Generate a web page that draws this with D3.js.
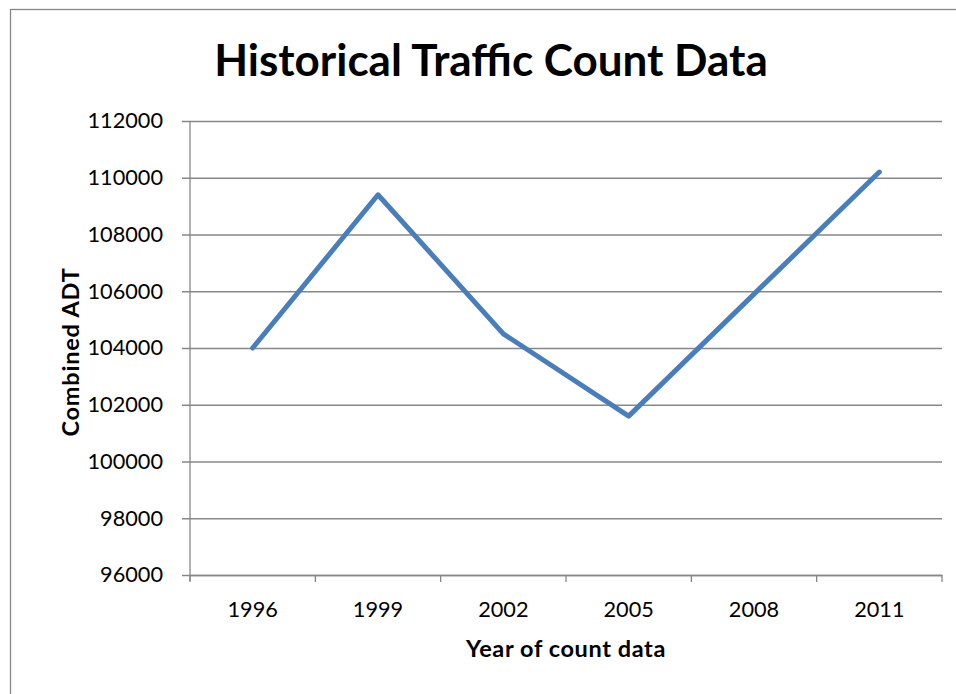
<!DOCTYPE html>
<html>
<head>
<meta charset="utf-8">
<script src="https://cdn.jsdelivr.net/npm/d3@7"></script>
<style>
  body { margin: 0; background: #fff; }
  svg { display: block; font-family: Lato, "Open Sans", sans-serif; }
</style>
</head>
<body>
<div id="chart"></div>
<script>
// data
const years = ["1996", "1999", "2002", "2005", "2008", "2011"];
const adt = [104000, 109400, 104500, 101600, 105900, 110200];
const yTicks = [96000, 98000, 100000, 102000, 104000, 106000, 108000, 110000, 112000];

const width = 956, height = 694;
const plotLeft = 190, plotRight = 942, plotTop = 121, plotBottom = 575;
const gray = "#878787";

const svg = d3.select("#chart").append("svg")
    .attr("width", width)
    .attr("height", height);

// outer chart border (runs off the right / bottom edge)
svg.append("rect")
    .attr("x", 10.5).attr("y", 9.5)
    .attr("width", 1000).attr("height", 800)
    .attr("fill", "none")
    .attr("stroke", gray)
    .attr("stroke-width", 1.3);

const x = d3.scaleBand().domain(years).range([plotLeft, plotRight]);
const y = d3.scaleLinear().domain([96000, 112000]).range([plotBottom, plotTop]);

// gridlines + y labels
const yAxis = svg.append("g")
    .attr("transform", "translate(182,0)")
    .call(d3.axisLeft(y).tickValues(yTicks).tickSize(-(plotRight - 182)).tickPadding(19).tickFormat(d3.format("d")));
yAxis.select(".domain").remove();
yAxis.selectAll("line").attr("stroke", gray).attr("stroke-width", 1.3);
yAxis.selectAll("text").attr("font-size", 21.7).attr("fill", "#000").attr("font-family", "Lato");

// y axis line
svg.append("line")
    .attr("x1", plotLeft).attr("x2", plotLeft)
    .attr("y1", y(112000)).attr("y2", plotBottom + 6)
    .attr("stroke", gray).attr("stroke-width", 1.3);

// x axis labels
const xAxis = svg.append("g")
    .attr("transform", "translate(0," + plotBottom + ")")
    .call(d3.axisBottom(x).tickSize(0).tickPadding(26.6));
xAxis.select(".domain").attr("stroke", gray).attr("stroke-width", 1.3);
xAxis.selectAll("text").attr("font-size", 21.7).attr("fill", "#000").attr("font-family", "Lato");

// x tick marks at band edges
const edges = years.map(d => x(d)).concat([x.range()[1]]);
svg.append("g").selectAll("line")
    .data(edges).enter()
    .append("line")
    .attr("x1", d => d).attr("x2", d => d)
    .attr("y1", plotBottom).attr("y2", plotBottom + 7)
    .attr("stroke", gray).attr("stroke-width", 1.3);

// the line
const line = d3.line()
    .x((d, i) => x(years[i]) + x.bandwidth() / 2)
    .y(d => y(d));

svg.append("path")
    .datum(adt)
    .attr("fill", "none")
    .attr("stroke", "#4a7ebb")
    .attr("stroke-width", 5)
    .attr("stroke-linejoin", "round")
    .attr("stroke-linecap", "round")
    .attr("d", line);

// titles
svg.append("text")
    .attr("x", 491).attr("y", 76)
    .attr("text-anchor", "middle")
    .attr("font-size", 44)
    .attr("font-weight", "bold")
    .text("Historical Traffic Count Data");

svg.append("text")
    .attr("x", 566).attr("y", 657)
    .attr("text-anchor", "middle")
    .attr("font-size", 23.5)
    .attr("font-weight", "bold")
    .attr("letter-spacing", 0.6)
    .text("Year of count data");

svg.append("text")
    .attr("transform", "translate(79,352) rotate(-90)")
    .attr("text-anchor", "middle")
    .attr("font-size", 23.5)
    .attr("font-weight", "bold")
    .attr("letter-spacing", 0.8)
    .text("Combined ADT");
</script>
</body>
</html>
